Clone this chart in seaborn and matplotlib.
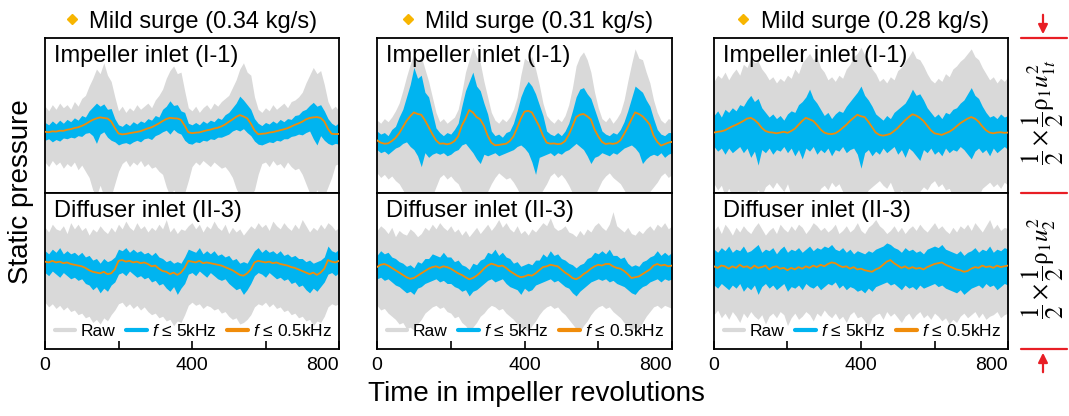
import numpy as np
import matplotlib
matplotlib.use("Agg")
import matplotlib.pyplot as plt
from matplotlib.lines import Line2D
from matplotlib.patches import FancyArrowPatch
import seaborn as sns

# Sampling grid (impeller revolutions), one sample every 10 revolutions
revs = np.arange(0, 801, 10)

# ---------------------- Impeller inlet (I-1), 0.34 kg/s ---------------------
imp034_low = [-10.5, -10.8, -10.2, -10.4, -9.8, -9.9, -9.2, -8.8, -8.1, -7.6,
              -6.7, -5.6, -4.1, -2.8, -1.9, -1.2, -1.6, -1.9, -3.8, -8.0,
              -11.6, -12.2, -11.9, -11.4, -11.0, -10.6, -10.1, -9.2, -8.3, -7.6,
              -6.4, -5.1, -3.6, -2.3, -1.5, -1.8, -1.9, -2.8, -6.5, -10.8,
              -11.4, -11.1, -10.9, -10.2, -9.6, -9.1, -8.4, -7.9, -7.0, -5.8,
              -4.1, -2.6, -0.9, 0.3, -0.6, -1.8, -5.2, -9.6, -12.1, -11.8,
              -11.6, -11.0, -10.7, -10.1, -9.5, -8.9, -8.2, -7.1, -6.0, -5.1,
              -4.0, -2.5, -1.6, -1.2, -1.0, -1.6, -3.8, -8.6, -11.8, -12.0,
              -11.9]
imp034_band_hi = [-4.5, -6, -3.5, -5.5, -3, -5, -2.5, -4, -1.5, -3,
                  0, -1, 3, 5.5, 8, 6, 7.5, 4, 4.5, -2,
                  -6, -7, -5, -6.5, -4, -5.5, -3.5, -4.5, -2, -3,
                  0, -1, 4, 6, 9.5, 6.5, 7, 3, 2, -5,
                  -6, -4.5, -6, -3.5, -5, -3, -4, -1.5, -2.5, 0.5,
                  2, 5, 8, 12.5, 10, 7, 4, -2, -5, -6.5,
                  -4.5, -5.5, -3.5, -5, -2.5, -4, -2, -2.5, 0, 0.5,
                  3, 4, 6.5, 8.5, 6, 7, 3, -2, -5, -6.5,
                  -4.5]
imp034_band_lo = [-16, -15, -17, -15.5, -16.5, -14.5, -15, -14, -14.5, -13,
                  -13.5, -11.5, -11, -13, -18, -12, -10.5, -14, -16, -17,
                  -19, -18, -17.5, -18.5, -17, -16, -17, -15, -14.5, -15.5,
                  -13, -12, -10.5, -9.5, -12, -9, -11, -12, -16, -18,
                  -18.5, -17, -17.5, -16, -16.5, -15, -15.5, -14, -14, -13,
                  -12, -10, -9, -10, -8.5, -11, -13, -16.5, -18.5, -19,
                  -18, -17, -17.5, -16, -16.5, -15, -15, -13.5, -13, -12,
                  -12.5, -11, -10, -15, -19, -13, -16, -18, -19, -18,
                  -18.5]
imp034_raw_hi = [6, 3, 7, 4, 8, 5, 7, 4, 9, 6,
                 11, 13, 19, 24, 30, 27, 34, 26, 22, 12,
                 3, 6, 2, 5, 3, 7, 4, 6, 8, 5,
                 10, 13, 17, 24, 29, 32, 27, 28, 16, 5,
                 3, 6, 2, 5, 7, 4, 8, 6, 9, 11,
                 13, 18, 23, 30, 34, 28, 26, 12, 4, 2,
                 5, 3, 7, 4, 6, 8, 5, 9, 10, 12,
                 15, 21, 26, 31, 27, 29, 20, 9, 4, 6,
                 3]
imp034_raw_lo = [-30, -33, -29, -32, -30, -34, -31, -33, -30, -35,
                 -32, -36, -40, -48, -52, -45, -52, -49, -52, -44,
                 -36, -31, -29, -33, -30, -32, -29, -33, -31, -34,
                 -33, -36, -38, -46, -52, -48, -52, -52, -50, -42,
                 -33, -30, -32, -29, -31, -33, -30, -32, -34, -33,
                 -36, -40, -47, -52, -50, -52, -52, -48, -38, -31,
                 -30, -33, -29, -32, -31, -34, -30, -33, -35, -34,
                 -38, -44, -50, -52, -48, -52, -52, -46, -40, -32,
                 -31]

# ---------------------- Impeller inlet (I-1), 0.31 kg/s ---------------------
imp031_low = [-16, -17.5, -18.2, -18.0, -16.5, -14.5, -11.5, -7.5, -3.5, -0.5,
              2.0, 1.0, 0.5, -3.0, -7.5, -12.0, -16.0, -18.2, -18.0, -18.6,
              -18.0, -16.5, -13.5, -6.5, -2.0, 3.5, 2.0, -1.0, -2.5, -6.6,
              -13.0, -17.5, -19.2, -19.0, -18.6, -18.2, -16.5, -13.5, -8.0, -2.0,
              2.5, 3.0, 2.0, -2.5, -7.0, -13.0, -17.5, -18.2, -18.0, -18.5,
              -18.2, -16.5, -12.5, -7.0, -1.0, 0.5, 1.0, -0.5, -2.5, -9.0,
              -13.5, -17.0, -18.4, -18.0, -18.3, -17.8, -16.0, -12.0, -7.5, -2.5,
              2.0, 1.0, -0.5, -3.0, -6.0, -13.0, -17.0, -19.4, -18.5, -17.5,
              -17.0]
imp031_band_hi = [-10, -12, -11, -13, -9, -7, -1, 4, 12, 20,
                  31, 24, 26, 15, 12, 2, -8, -11, -13, -11,
                  -12, -9, -5, 6, 16, 22, 28, 19, 16, 8,
                  1, -10, -13, -12, -14, -11, -10, -5, 3, 12,
                  18, 22, 19, 14, 7, 0, -10, -12, -13, -11,
                  -13, -10, -5, 3, 12, 17, 18, 14, 11, 4,
                  -3, -10, -12, -13, -11, -12, -9, -4, 3, 11,
                  19, 17, 15, 10, 6, -2, -9, -12, -13, -11,
                  -11]
imp031_band_lo = [-22, -24, -23, -25, -23, -21, -20, -18, -17, -20,
                  -22, -26, -33, -24, -27, -25, -24, -25, -24, -26,
                  -25, -23, -22, -19, -18, -21, -24, -28, -31, -25,
                  -26, -25, -24, -26, -25, -24, -23, -22, -20, -19,
                  -21, -24, -30, -38, -27, -26, -25, -24, -26, -24,
                  -25, -23, -22, -20, -18, -20, -22, -26, -31, -27,
                  -26, -24, -25, -26, -24, -25, -23, -21, -20, -19,
                  -21, -24, -31, -28, -26, -25, -26, -24, -27, -25,
                  -24]
imp031_raw_hi = [-3, -5, -2, -4, -1, 3, 8, 16, 25, 33,
                 40, 35, 38, 30, 22, 12, 2, -4, -2, -5,
                 -3, -1, 4, 15, 28, 36, 44, 38, 34, 22,
                 12, 2, -3, -5, -2, -4, -1, 4, 12, 26,
                 37, 35, 38, 30, 20, 8, 0, -3, -5, -2,
                 -4, 0, 7, 18, 32, 38, 41, 36, 28, 15,
                 5, -2, -4, -1, -5, -2, 2, 10, 22, 33,
                 43, 37, 36, 28, 21, 10, 2, -3, -5, -2,
                 -3]
imp031_raw_lo = [-37, -40, -38, -41, -39, -42, -44, -48, -52, -50,
                 -52, -52, -52, -52, -51, -52, -46, -40, -38, -41,
                 -39, -42, -44, -49, -52, -52, -50, -52, -52, -52,
                 -49, -44, -40, -37, -39, -41, -40, -43, -47, -52,
                 -52, -52, -50, -52, -52, -48, -44, -39, -37, -40,
                 -38, -41, -45, -50, -52, -52, -52, -51, -52, -52,
                 -47, -42, -39, -37, -40, -42, -44, -48, -52, -52,
                 -51, -52, -52, -52, -49, -46, -43, -39, -37, -40,
                 -38]

# ---------------------- Impeller inlet (I-1), 0.28 kg/s ---------------------
imp028_low = [-11, -10.5, -10.2, -9.5, -8.2, -7.0, -6.0, -4.8, -3.5, -2.0,
              -1.5, -2.8, -5.0, -8.0, -10.0, -10.8, -11.0, -11.5, -11.0, -10.5,
              -11.2, -10.0, -8.5, -6.0, -3.5, -1.5, -2.5, -3.5, -6.0, -9.0,
              -11.0, -11.8, -12.0, -11.5, -10.0, -8.0, -6.0, -3.5, -1.5, 0.5,
              -0.5, -1.0, -4.0, -7.5, -11.0, -12.5, -13.0, -12.5, -11.8, -10.0,
              -8.0, -5.5, -3.0, -1.0, 0.8, 0.0, -1.5, -3.5, -6.5, -9.5,
              -11.5, -12.0, -12.5, -11.5, -10.5, -9.0, -7.0, -5.0, -3.5, -2.0,
              -1.0, -2.0, -4.0, -7.0, -9.5, -11.0, -11.5, -11.0, -10.8, -11.2,
              -11.0]
imp028_band_hi = [0, 3, -1, 4, 2, 5, 3, 7, 6, 10,
                  13, 9, 11, 5, 2, -1, 1, -2, 0, -3,
                  1, 3, 2, 7, 9, 12, 17, 11, 8, 4,
                  0, 2, -2, 1, 3, 2, 6, 9, 12, 15,
                  19, 13, 10, 6, 1, -1, -3, 0, -2, 2,
                  4, 6, 8, 12, 17, 13, 14, 10, 5, 2,
                  -1, 1, -2, 2, 1, 4, 5, 8, 10, 14,
                  18, 13, 11, 6, 2, -1, 0, -2, 1, -1,
                  0]
imp028_band_lo = [-20, -23, -21, -25, -21, -24, -22, -20, -24, -21,
                  -27, -23, -32, -22, -24, -21, -25, -22, -23, -20,
                  -24, -21, -26, -22, -28, -21, -23, -20, -25, -22,
                  -24, -21, -26, -22, -23, -20, -24, -22, -21, -25,
                  -34, -24, -22, -26, -23, -25, -21, -24, -22, -20,
                  -25, -22, -27, -21, -23, -26, -29, -22, -24, -21,
                  -25, -23, -26, -21, -24, -22, -23, -20, -22, -25,
                  -28, -23, -21, -24, -22, -26, -21, -24, -22, -20,
                  -22]
imp028_raw_hi = [22, 26, 24, 28, 23, 27, 30, 26, 33, 31,
                 37, 34, 35, 30, 27, 23, 25, 21, 24, 22,
                 26, 24, 30, 27, 34, 37, 40, 36, 38, 31,
                 28, 23, 25, 22, 26, 24, 30, 33, 38, 40,
                 44, 39, 37, 30, 27, 22, 24, 21, 25, 23,
                 29, 31, 35, 38, 42, 37, 36, 32, 27, 23,
                 21, 24, 22, 27, 25, 30, 32, 35, 37, 40,
                 43, 38, 36, 31, 27, 23, 25, 21, 24, 22,
                 25]
imp028_raw_lo = [-44, -48, -45, -52, -47, -52, -49, -52, -50, -52,
                 -52, -51, -48, -52, -46, -44, -47, -43, -46, -49,
                 -44, -52, -50, -52, -52, -49, -52, -51, -52, -47,
                 -45, -48, -43, -46, -44, -49, -52, -50, -52, -52,
                 -51, -52, -48, -46, -44, -42, -45, -47, -43, -49,
                 -52, -48, -52, -52, -50, -52, -49, -46, -48, -44,
                 -42, -46, -44, -48, -47, -52, -50, -52, -52, -51,
                 -52, -49, -52, -47, -45, -43, -46, -44, -47, -43,
                 -45]

# ---------------------- Diffuser inlet (II-3), 0.34 kg/s --------------------
dif034_low = [6, 5.5, 6.5, 5.5, 6, 5, 5.5, 4.5, 4, 3.5,
              3, 2, 0.5, -0.5, -1, -1.5, -0.5, -2, -1.5, 1,
              6.5, 7, 6, 6.5, 5.5, 6, 5, 5.5, 4.5, 3,
              3.5, 1.5, 0, -0.5, -2, -1, -2.5, -1, 2, 6.5,
              6, 5.5, 6.5, 5, 5.5, 5, 4.5, 4, 3.5, 2.5,
              1.5, 0.5, -1, -2.5, -3, -1.5, 1, 5.5, 6.5, 6,
              5.5, 6, 5, 5.5, 4.5, 4, 3.5, 2.5, 2, 1,
              0, -1, -2, -1, -2.5, -1, 1.5, 7, 6, 5.5,
              6.5]
dif034_band_hi = [13, 11, 14, 12, 15, 11, 13, 11, 12, 10,
                  12, 9, 10, 7, 8, 5, 8, 6, 7, 9,
                  14, 13, 15, 12, 14, 12, 13, 11, 12, 10,
                  12, 9, 8, 6, 7, 5, 6, 5, 9, 14,
                  13, 12, 15, 11, 13, 11, 13, 10, 11, 9,
                  10, 7, 8, 5, 6, 5, 9, 13, 15, 12,
                  14, 12, 13, 11, 13, 10, 11, 9, 10, 8,
                  8, 6, 7, 5, 6, 7, 9, 16, 13, 12,
                  14]
dif034_band_lo = [-1, -3, 0, -2, -4, -1, -3, -5, -4, -6,
                  -5, -8, -9, -12, -10, -14, -11, -13, -9, -7,
                  -2, -1, -3, 0, -2, -4, -3, -5, -4, -7,
                  -6, -9, -8, -11, -13, -10, -15, -11, -8, -2,
                  -1, -3, 0, -2, -4, -1, -3, -5, -6, -5,
                  -8, -10, -12, -11, -15, -12, -8, -3, -1, -2,
                  -4, -1, -3, -5, -4, -6, -5, -8, -7, -10,
                  -9, -12, -14, -11, -13, -10, -7, -2, -1, -3,
                  -1]
dif034_raw_hi = [28, 25, 30, 27, 26, 29, 24, 31, 27, 30,
                 26, 28, 23, 27, 25, 29, 26, 24, 28, 25,
                 30, 27, 32, 28, 26, 31, 27, 29, 25, 28,
                 26, 30, 27, 33, 25, 28, 24, 27, 26, 29,
                 31, 27, 30, 25, 29, 27, 32, 28, 26, 30,
                 24, 28, 25, 27, 23, 26, 29, 27, 31, 28,
                 30, 26, 32, 29, 27, 31, 28, 26, 30, 27,
                 33, 29, 25, 28, 26, 30, 27, 31, 29, 26,
                 28]
dif034_raw_lo = [-20, -23, -21, -24, -22, -25, -23, -26, -25, -28,
                 -27, -30, -29, -33, -31, -34, -30, -32, -28, -25,
                 -21, -20, -23, -21, -24, -22, -25, -23, -26, -28,
                 -27, -30, -29, -32, -31, -35, -32, -33, -28, -22,
                 -20, -22, -21, -24, -22, -23, -25, -24, -27, -26,
                 -29, -31, -30, -34, -33, -31, -28, -23, -21, -22,
                 -20, -23, -21, -24, -23, -26, -25, -28, -27, -30,
                 -29, -32, -31, -35, -32, -33, -29, -23, -21, -22,
                 -21]

# ---------------------- Diffuser inlet (II-3), 0.31 kg/s --------------------
dif031_low = [2.5, 4, 4.5, 3.5, 2, 0.5, -1, -2.5, -4, -5,
              -4.5, -3, -1.5, 0, 1.5, 2.5, 3, 2, 3, 2.5,
              1.5, 0, -1.5, -2.5, -4, -5.3, -4.5, -3, -1, 1.5,
              3.5, 4.7, 4, 3, 3.5, 2, 0, -1.5, -3, -4,
              -3.5, -2.5, -3, -1.5, 0.5, 2.5, 3, 4, 3.5, 3,
              1, -1, -2.5, -4.5, -5.3, -4, -2, -0.5, 1.5, 3,
              4, 3.5, 4.5, 4.5, 3, 2, 1.5, 0, -2, -4.5,
              -4, -3.5, -2, -0.5, 1, 3.5, 4.5, 3.5, 4, 3,
              3.5]
dif031_band_hi = [10, 13, 11, 12, 9, 8, 6, 5, 3, 4,
                  2, 6, 5, 8, 8, 11, 10, 9, 12, 9,
                  9, 6, 7, 4, 3, 1, 5, 4, 7, 8,
                  12, 11, 14, 10, 12, 9, 8, 5, 6, 3,
                  4, 5, 4, 7, 7, 11, 9, 13, 10, 11,
                  8, 7, 5, 4, 2, 4, 5, 8, 9, 12,
                  11, 13, 11, 14, 10, 10, 8, 9, 5, 3,
                  4, 3, 6, 7, 9, 10, 13, 10, 12, 10,
                  12]
dif031_band_lo = [-5, -4, -6, -5, -7, -9, -10, -12, -14, -13,
                  -15, -11, -10, -8, -7, -6, -5, -7, -6, -8,
                  -8, -10, -11, -13, -12, -16, -13, -12, -10, -8,
                  -6, -5, -7, -6, -5, -8, -10, -11, -12, -15,
                  -11, -13, -12, -9, -8, -7, -6, -5, -7, -6,
                  -8, -10, -11, -14, -16, -13, -11, -9, -7, -6,
                  -5, -6, -5, -7, -6, -8, -9, -10, -12, -14,
                  -15, -12, -10, -9, -7, -6, -5, -7, -5, -6,
                  -5]
dif031_raw_hi = [26, 29, 27, 24, 28, 22, 26, 24, 23, 27,
                 25, 22, 24, 28, 26, 30, 27, 31, 28, 26,
                 29, 25, 27, 23, 26, 22, 25, 28, 24, 27,
                 30, 26, 29, 33, 28, 31, 27, 25, 29, 24,
                 26, 23, 27, 25, 28, 31, 29, 34, 28, 26,
                 27, 29, 25, 24, 22, 26, 23, 27, 25, 29,
                 31, 28, 26, 30, 38, 29, 27, 25, 28, 24,
                 23, 26, 24, 27, 29, 26, 30, 28, 31, 27,
                 29]
dif031_raw_lo = [-22, -25, -24, -27, -29, -31, -34, -33, -37, -36,
                 -38, -34, -31, -27, -25, -23, -22, -24, -23, -26,
                 -27, -30, -29, -33, -35, -38, -36, -33, -29, -27,
                 -24, -22, -23, -25, -24, -27, -29, -31, -34, -36,
                 -37, -39, -35, -32, -28, -25, -23, -22, -24, -23,
                 -26, -28, -31, -34, -37, -39, -35, -32, -28, -25,
                 -23, -22, -24, -23, -26, -28, -30, -33, -35, -38,
                 -36, -37, -33, -29, -26, -23, -22, -24, -22, -23,
                 -24]

# ---------------------- Diffuser inlet (II-3), 0.28 kg/s --------------------
dif028_low = [3, 2, 3.5, 3, 1.5, 3, 2, 4, 2.5, 3,
              1.5, 3.5, 2, 2.5, 3.5, 1, 2.5, 3, 1.5, 2,
              0.5, 2, 1, 2.5, 1.5, 3, 2, 3.5, 2.5, 4,
              3, 4.5, 5.5, 5, 3.5, 2.5, 3, 1.5, 2.5, 1,
              1.5, 0.5, 0, -0.5, 1, 2, 4, 6, 7, 5,
              3.5, 2, 3, 1.5, 2.5, 1.5, 2, 1, 2.5, 3.5,
              4.5, 5, 5.5, 4, 3, 2, 1, 0.5, -0.5, 0,
              1.5, 2.5, 2, 3.5, 2.5, 3, 2, 3.5, 2.5, 3,
              3.5]
dif028_band_hi = [14, 12, 15, 13, 16, 12, 14, 13, 16, 12,
                  13, 15, 17, 12, 14, 13, 15, 11, 14, 16,
                  12, 14, 13, 15, 12, 14, 16, 13, 15, 14,
                  16, 15, 17, 14, 13, 15, 12, 14, 11, 13,
                  12, 11, 13, 12, 14, 15, 16, 18, 17, 15,
                  14, 12, 15, 13, 14, 12, 13, 11, 14, 15,
                  16, 15, 17, 14, 13, 12, 11, 13, 10, 12,
                  13, 15, 12, 14, 13, 16, 12, 14, 13, 15,
                  14]
dif028_band_lo = [-9, -11, -8, -10, -12, -9, -11, -8, -13, -10,
                  -12, -9, -15, -10, -8, -11, -9, -12, -10, -8,
                  -13, -10, -11, -9, -12, -8, -10, -11, -9, -12,
                  -10, -8, -9, -7, -11, -9, -12, -10, -11, -13,
                  -12, -14, -11, -13, -10, -9, -8, -7, -9, -8,
                  -10, -12, -9, -11, -10, -12, -9, -11, -10, -9,
                  -8, -10, -9, -11, -12, -13, -14, -12, -15, -13,
                  -11, -10, -9, -11, -8, -10, -9, -12, -10, -8,
                  -9]
dif028_raw_hi = [26, 29, 24, 30, 27, 23, 28, 25, 29, 26,
                 24, 28, 31, 27, 23, 26, 28, 24, 30, 27,
                 25, 29, 26, 30, 28, 24, 27, 31, 29, 26,
                 28, 25, 27, 30, 24, 26, 29, 25, 27, 31,
                 26, 24, 28, 30, 33, 29, 27, 24, 26, 29,
                 25, 28, 24, 27, 29, 26, 30, 27, 25, 28,
                 31, 27, 29, 26, 24, 28, 25, 29, 27, 30,
                 26, 31, 28, 25, 29, 33, 27, 30, 26, 28,
                 27]
dif028_raw_lo = [-28, -25, -30, -27, -31, -26, -29, -33, -27, -30,
                 -26, -29, -31, -28, -34, -29, -27, -30, -26, -28,
                 -35, -30, -27, -31, -29, -26, -28, -32, -27, -29,
                 -25, -28, -30, -27, -31, -29, -33, -28, -26, -30,
                 -29, -32, -36, -30, -28, -27, -31, -26, -29, -27,
                 -30, -33, -29, -27, -31, -28, -26, -30, -28, -31,
                 -27, -29, -32, -30, -34, -31, -33, -29, -27, -30,
                 -28, -26, -30, -27, -31, -29, -28, -26, -30, -28,
                 -27]

flow_labels = ["Mild surge (0.34 kg/s)", "Mild surge (0.31 kg/s)", "Mild surge (0.28 kg/s)"]
row_labels = ["Impeller inlet (I-1)", "Diffuser inlet (II-3)"]
legend_labels = ["Raw", r"$f$ ≤ 5kHz", r"$f$ ≤ 0.5kHz"]
tick_values = [0, 200, 400, 600, 800]
tick_labels = ["0", "", "400", "", "800"]

signals = [
    [(imp034_raw_lo, imp034_raw_hi, imp034_band_lo, imp034_band_hi, imp034_low),
     (dif034_raw_lo, dif034_raw_hi, dif034_band_lo, dif034_band_hi, dif034_low)],
    [(imp031_raw_lo, imp031_raw_hi, imp031_band_lo, imp031_band_hi, imp031_low),
     (dif031_raw_lo, dif031_raw_hi, dif031_band_lo, dif031_band_hi, dif031_low)],
    [(imp028_raw_lo, imp028_raw_hi, imp028_band_lo, imp028_band_hi, imp028_low),
     (dif028_raw_lo, dif028_raw_hi, dif028_band_lo, dif028_band_hi, dif028_low)],
]

# ---------------------------------------------------------------------------
sns.set_theme(style="white")
plt.rcParams["font.family"] = ["Liberation Sans", "DejaVu Sans"]
plt.rcParams["mathtext.fontset"] = "custom"
plt.rcParams["mathtext.rm"] = "Liberation Sans"
plt.rcParams["mathtext.it"] = "Liberation Sans:italic"
plt.rcParams["text.color"] = "black"
plt.rcParams["axes.labelcolor"] = "black"
plt.rcParams["xtick.color"] = "black"

GREY = "#d9d9d9"
BLUE = "#00b4f0"
ORANGE = "#f08c0a"
GOLD = "#f7b500"
RED = "#e81e25"

W, H = 1069, 416
fig = plt.figure(figsize=(W / 100, H / 100), dpi=100)

col_left = [45, 377, 714]
col_width = [294, 295, 294]
row_span = [(38, 193), (193, 349)]
title_text_x = [0.150, 0.163, 0.160]
title_mark_x = [0.092, 0.105, 0.099]


def frac_axes(x0, w, y0, y1):
    return fig.add_axes([x0 / W, 1 - y1 / H, w / W, (y1 - y0) / H])


for c in range(3):
    for r in range(2):
        y0, y1 = row_span[r]
        ax = frac_axes(col_left[c], col_width[c], y0, y1)
        raw_lo, raw_hi, band_lo, band_hi, low = signals[c][r]
        ax.fill_between(revs, raw_lo, raw_hi, color=GREY, lw=0, zorder=1)
        ax.fill_between(revs, band_lo, band_hi, color=BLUE, lw=0, zorder=2)
        sns.lineplot(x=revs, y=low, ax=ax, color=ORANGE, linewidth=1.3,
                     legend=False, zorder=3)
        ax.set_xlim(0, 800)
        ax.set_ylim(-50, 50)
        ax.set_yticks([])
        ax.set_xlabel("")
        ax.set_ylabel("")
        for sp in ax.spines.values():
            sp.set_visible(True)
            sp.set_color("black")
            sp.set_linewidth(1.3)
        ax.text(0.03, 0.955, row_labels[r], transform=ax.transAxes,
                fontsize=17, ha="left", va="top", zorder=5)
        if r == 0:
            ax.set_xticks([])
            ax.text(title_text_x[c], 1 + 10 / 155, flow_labels[c],
                    transform=ax.transAxes, fontsize=17, ha="left", va="baseline")
            ax.plot([title_mark_x[c]], [1 + 19 / 155], marker="D", ms=5.2,
                    color=GOLD, transform=ax.transAxes, clip_on=False, lw=0)
        else:
            ax.set_xticks(tick_values)
            ax.set_xticklabels(tick_labels)
            ax.tick_params(axis="x", direction="in", length=6, width=1.2,
                           labelsize=14, pad=6, bottom=True, colors="black")
            for lab in ax.get_xticklabels():
                if lab.get_text() == "800":
                    lab.set_horizontalalignment("right")
            handles = [Line2D([], [], color=GREY, lw=3),
                       Line2D([], [], color=BLUE, lw=3),
                       Line2D([], [], color=ORANGE, lw=3)]
            ax.legend(handles, legend_labels, loc="lower left",
                      bbox_to_anchor=(0.0, 0.0), ncol=3, frameon=False,
                      fontsize=12.5, handlelength=1.2, handletextpad=0.3,
                      columnspacing=0.6, borderpad=0.35, borderaxespad=0.2)

fig.text(21 / W, 1 - 192 / H, "Static pressure", rotation=90, fontsize=20,
         ha="center", va="center")
fig.text(536 / W, 1 - 394 / H, "Time in impeller revolutions", fontsize=20,
         ha="center", va="center")

# Normalisation scale bars on the right
for y in (38, 193, 349):
    fig.add_artist(Line2D([1021 / W, 1067 / W], [1 - y / H, 1 - y / H],
                          transform=fig.transFigure, color=RED, lw=1.6))
fig.add_artist(FancyArrowPatch((1043 / W, 1 - 12 / H), (1043 / W, 1 - 37 / H),
                               transform=fig.transFigure, arrowstyle="-|>",
                               mutation_scale=14, color=RED, lw=1.6))
fig.add_artist(FancyArrowPatch((1043 / W, 1 - 375 / H), (1043 / W, 1 - 350 / H),
                               transform=fig.transFigure, arrowstyle="-|>",
                               mutation_scale=14, color=RED, lw=1.6))
fig.text(1043 / W, 1 - 112 / H, r"$\dfrac{1}{2}\times\dfrac{1}{2}\mathrm{\rho}_1 u_{1t}^2$",
         rotation=90, fontsize=18, ha="center", va="center", math_fontfamily="stix")
fig.text(1043 / W, 1 - 268 / H, r"$\dfrac{1}{2}\times\dfrac{1}{2}\mathrm{\rho}_1 u_{2}^2$",
         rotation=90, fontsize=18, ha="center", va="center", math_fontfamily="stix")

fig.savefig("out.png", dpi=100)
